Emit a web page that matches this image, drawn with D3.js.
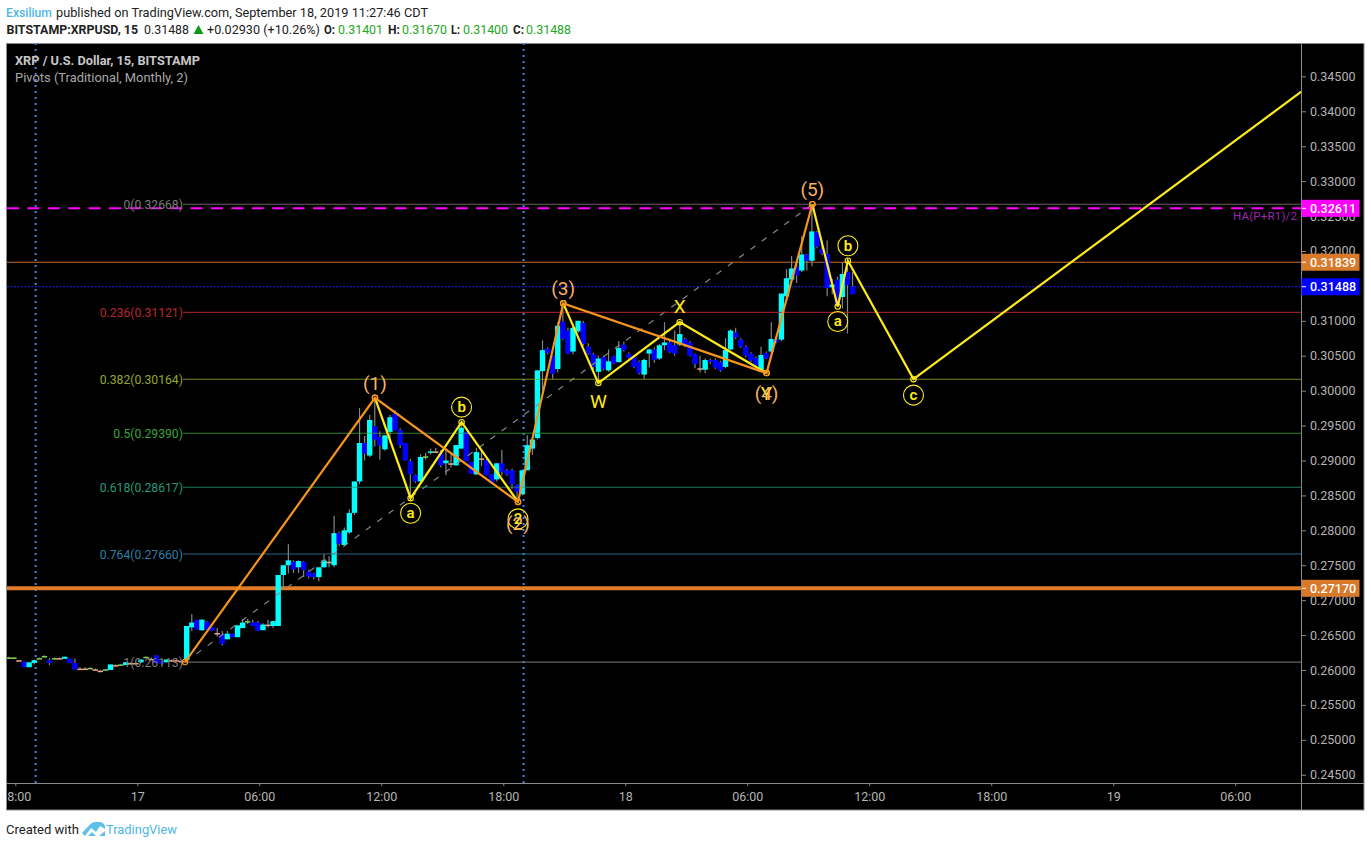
<!DOCTYPE html>
<html><head><meta charset="utf-8">
<script src="https://cdn.jsdelivr.net/npm/d3@7"></script>
<style>
html,body{margin:0;padding:0;background:#fff;width:1371px;height:847px;overflow:hidden}
svg{display:block;font-family:Roboto,sans-serif}
</style></head><body>
<script>
const firstBar=-25;
const opens=[.2617,.2617,.2614,.2612,.2604,.2610,.2616,.2619,.2614,.2616,
.2617,.2616,.2616,.2610,.2602,.2602,.2602,.2601,.2599,.2600,
.2600,.2607,.2607,.2607,.2610,.2610,.2611,.2618,.2616,.2621,
.2612,.2611,.2614,.2614,.2613,.2614,.2661,.2672,.2657,.2669,
.2661,.2653,.2651,.2644,.2652,.2647,.2660,.2669,.2668,.2668,
.2657,.2665,.2663,.2663,.2736,.2750,.2755,.2747,.2755,.2741,
.2738,.2733,.2747,.2755,.2750,.2796,.2779,.2797,.2825,.2870,
.2925,.2907,.2949,.2934,.2916,.2941,.2967,.2944,.2925,.2899,
.2879,.2870,.2905,.2911,.2913,.2910,.2896,.2896,.2893,.2917,
.2941,.2898,.2880,.2903,.2901,.2880,.2873,.2896,.2886,.2886,
.2865,.2852,.2886,.2917,.2932,.3028,.3060,.3050,.3031,.3099,
.3086,.3056,.3085,.3097,.3063,.3052,.3027,.3048,.3029,.3049,
.3041,.3066,.3053,.3047,.3041,.3023,.3053,.3059,.3046,.3065,
.3069,.3065,.3066,.3074,.3069,.3052,.3032,.3030,.3044,.3044,
.3041,.3034,.3059,.3083,.3073,.3063,.3053,.3047,.3027,.3054,
.3056,.3074,.3073,.3135,.3159,.3177,.3172,.3195,.3186,.3227,
.3203,.3196,.3148,.3159,.3134,.3170,.3149];
const closes=[.2618,.2618,.2613,.2604,.2611,.2614,.2617,.2620,.2610,.2617,
.2617,.2619,.2610,.2601,.2602,.2602,.2603,.2601,.2599,.2601,
.2608,.2607,.2608,.2611,.2610,.2610,.2615,.2619,.2616,.2610,
.2609,.2615,.2614,.2614,.2613,.2663,.2668,.2658,.2672,.2658,
.2656,.2653,.2637,.2652,.2647,.2664,.2668,.2670,.2663,.2656,
.2665,.2665,.2670,.2736,.2750,.2757,.2744,.2756,.2743,.2734,
.2733,.2747,.2757,.2755,.2796,.2781,.2800,.2825,.2870,.2925,
.2910,.2958,.2930,.2921,.2936,.2962,.2943,.2922,.2900,.2880,
.2870,.2905,.2906,.2913,.2912,.2893,.2900,.2896,.2922,.2947,
.2899,.2881,.2912,.2903,.2879,.2868,.2896,.2884,.2880,.2866,
.2855,.2886,.2922,.2930,.3029,.3058,.3054,.3024,.3093,.3074,
.3053,.3090,.3100,.3067,.3052,.3034,.3046,.3031,.3042,.3039,
.3061,.3058,.3047,.3034,.3025,.3044,.3059,.3044,.3065,.3069,
.3055,.3053,.3081,.3065,.3050,.3038,.3032,.3044,.3041,.3033,
.3029,.3058,.3086,.3076,.3063,.3050,.3043,.3036,.3051,.3046,
.3074,.3069,.3139,.3161,.3175,.3165,.3195,.3186,.3228,.3206,
.3196,.3147,.3152,.3124,.3167,.3151,.3138];
const highs=[.2619,.2618,.2614,.2612,.2611,.2615,.2618,.2621,.2617,.2618,
.2618,.2619,.2616,.2616,.2604,.2604,.2604,.2602,.2600,.2601,
.2608,.2608,.2608,.2611,.2611,.2611,.2615,.2619,.2618,.2621,
.2612,.2615,.2615,.2615,.2614,.2663,.2680,.2672,.2673,.2670,
.2661,.2660,.2656,.2656,.2652,.2664,.2673,.2673,.2672,.2670,
.2667,.2672,.2670,.2736,.2750,.2780,.2757,.2757,.2756,.2744,
.2739,.2747,.2766,.2763,.2821,.2798,.2804,.2830,.2870,.2975,
.2935,.2965,.2989,.2942,.2936,.2965,.2972,.2946,.2925,.2902,
.2880,.2909,.2911,.2917,.2918,.2915,.2915,.2910,.2922,.2955,
.2941,.2898,.2918,.2914,.2903,.2880,.2896,.2915,.2888,.2888,
.2866,.2886,.2936,.2930,.3029,.3072,.3062,.3050,.3098,.3120,
.3090,.3092,.3100,.3100,.3068,.3054,.3050,.3050,.3059,.3050,
.3071,.3070,.3055,.3050,.3043,.3046,.3060,.3062,.3067,.3098,
.3072,.3086,.3096,.3076,.3071,.3053,.3050,.3046,.3046,.3046,
.3043,.3075,.3088,.3090,.3075,.3065,.3055,.3049,.3063,.3056,
.3098,.3076,.3139,.3174,.3193,.3180,.3221,.3196,.3267,.3229,
.3215,.3215,.3160,.3163,.3184,.3177,.3170];
const lows=[.2616,.2617,.2613,.2604,.2604,.2608,.2616,.2619,.2607,.2616,
.2616,.2616,.2610,.2601,.2601,.2601,.2602,.2600,.2598,.2600,
.2600,.2606,.2607,.2607,.2609,.2609,.2610,.2618,.2615,.2610,
.2608,.2611,.2613,.2613,.2612,.2614,.2656,.2658,.2656,.2658,
.2656,.2648,.2635,.2644,.2647,.2647,.2660,.2666,.2663,.2656,
.2657,.2661,.2660,.2663,.2716,.2738,.2739,.2739,.2733,.2731,
.2730,.2727,.2747,.2747,.2747,.2778,.2777,.2795,.2822,.2866,
.2900,.2905,.2920,.2901,.2914,.2925,.2943,.2918,.2900,.2845,
.2868,.2870,.2901,.2909,.2911,.2890,.2879,.2890,.2893,.2917,
.2899,.2881,.2880,.2892,.2879,.2868,.2870,.2878,.2878,.2859,
.2845,.2850,.2886,.2908,.2930,.3000,.3052,.3017,.3026,.3072,
.3052,.3052,.3083,.3064,.3051,.3028,.3014,.3029,.3027,.3038,
.3040,.3056,.3046,.3032,.3023,.3017,.3033,.3040,.3044,.3058,
.3054,.3050,.3064,.3062,.3049,.3032,.3026,.3025,.3038,.3031,
.3027,.3032,.3058,.3074,.3061,.3048,.3041,.3033,.3027,.3045,
.3054,.3068,.3071,.3131,.3157,.3154,.3170,.3172,.3178,.3204,
.3194,.3135,.3138,.3120,.3118,.3082,.3138];

const priceTicks=[.245,.25,.255,.26,.265,.27,.275,.28,.285,.29,.295,.3,.305,.31,.315,.32,.325,.33,.335,.34,.345];
const timeTicks=[-24,0,24,48,72,96,120,144,168,192,216];
const timeLabels=["18:00","17","06:00","12:00","18:00","18","06:00","12:00","18:00","19","06:00"];
const sessionBars=[-20,76];

const fibRatios=["0","0.236","0.382","0.5","0.618","0.764","1"];
const fibPrices=[.32668,.31121,.30164,.2939,.28617,.2766,.26113];
const fibColors=["#7c7c7c","#b8272f","#93a82a","#3aa63a","#25997a","#2a7fa8","#7c7c7c"];
const fibStart=9.38;
const fibEnd=132.8;

const pivotPrices=[.32611,.31839,.2717];
const lastPrice=.31488;

const impulseBars=[9.38,46.76,74.9,83.8,123.8,132.8];
const impulsePrices=[.26113,.29897,.28407,.3125,.30251,.32669];
const abcOneBars=[46.76,53.77,63.8,74.9];
const abcOnePrices=[.29897,.2846,.29549,.28407];
const wxyBars=[83.8,90.7,106.7,123.8];
const wxyPrices=[.3125,.30108,.30981,.30251];
const abcTwoBars=[132.8,137.8,139.8,152.7,232.7];
const abcTwoPrices=[.32669,.31205,.3186,.30165,.34481];

const orangeLabels=["(1)","(2)","(3)","(4)","(5)"];
const wxyLabels=["W","X","Y"];

const W=1371,H=847,L=7,R=1301,T=43,B=783,FR=1364,FB=810;
const x=d3.scaleLinear().domain([0,100]).range([137.3,645.6]);
const y=d3.scaleLinear().domain([.26,.34]).range([670,111.3]);
const barShift=-0.28;

const svg=d3.select("body").append("svg").attr("width",W).attr("height",H);
svg.append("defs").append("clipPath").attr("id","plot").append("rect").attr("x",L).attr("y",T).attr("width",R-L).attr("height",B-T);
svg.append("defs").append("clipPath").attr("id","time").append("rect").attr("x",L).attr("y",B).attr("width",FR-L).attr("height",FB-B);

// frame
svg.append("rect").attr("x",6.5).attr("y",43.5).attr("width",FR-6.5).attr("height",FB-43.5).attr("fill","#000").attr("stroke","#8a8a8a");

// header: each run is placed at the reference's position and fitted to its width
function run(x0,w,yy,txt,size,col,weight){
  svg.append("text").attr("x",x0).attr("y",yy).attr("font-size",size).attr("fill",col).attr("font-weight",weight||400)
    .attr("textLength",w).attr("lengthAdjust","spacingAndGlyphs").text(txt);
}
const green="#22a822",ink="#222";
run(6,46,17,"Exsilium",13.5,"#4db6e8",500);
run(56,372,17,"published on TradingView.com, September 18, 2019 11:27:46 CDT",13.5,ink);
run(6.5,131.5,33.5,"BITSTAMP:XRPUSD, 15",13,ink,700);
run(144,45,33.5,"0.31488",13,ink);
run(207,113,33.5,"+0.02930 (+10.26%)",13,ink);
const ohlcLabels=["O:","H:","L:","C:"];
const ohlcValues=["0.31401","0.31670","0.31400","0.31488"];
const ohlcX=[[324,11,338],[388,12,402],[451,9,463],[513,11,526]];
ohlcLabels.forEach((a,i)=>{
  run(ohlcX[i][0],ohlcX[i][1],33.5,a,13,ink,700);
  run(ohlcX[i][2],45,33.5,ohlcValues[i],13,green);
});
svg.append("path").attr("d","M198.5,25 L203.5,34 L193.5,34 Z").attr("fill","#0a9a1a");

const plot=svg.append("g").attr("clip-path","url(#plot)");

// session breaks
plot.selectAll(".sb").data(sessionBars).join("line").attr("x1",d=>x(d)).attr("x2",d=>x(d))
  .attr("y1",T).attr("y2",B).attr("stroke","#3f86e0").attr("stroke-width",2).attr("stroke-dasharray","2 4");

// pivots
plot.append("line").attr("x1",L).attr("x2",R).attr("y1",y(pivotPrices[2])).attr("y2",y(pivotPrices[2])).attr("stroke","#e07b28").attr("stroke-width",4);
plot.append("line").attr("x1",L).attr("x2",R).attr("y1",y(pivotPrices[1])).attr("y2",y(pivotPrices[1])).attr("stroke","#c8702a").attr("stroke-width",1);
plot.append("line").attr("x1",L).attr("x2",R).attr("y1",y(pivotPrices[0])).attr("y2",y(pivotPrices[0])).attr("stroke","#ff00ff").attr("stroke-width",2).attr("stroke-dasharray","12 8.4");
plot.append("line").attr("x1",L).attr("x2",R).attr("y1",y(lastPrice)).attr("y2",y(lastPrice)).attr("stroke","#2222ff").attr("stroke-width",1.2).attr("stroke-dasharray","2 1.5");

// candles
const bars=opens.map((o,i)=>({k:firstBar+i,o,c:closes[i],h:highs[i],l:lows[i]}));
const cx=d=>x(d.k+barShift);
plot.append("g").selectAll("line").data(bars).join("line").attr("x1",cx).attr("x2",cx)
  .attr("y1",d=>y(d.h)).attr("y2",d=>y(d.l)).attr("stroke","#858585").attr("stroke-width",1.2);
const color=d=>{const t=d.c-d.o; if(Math.abs(t)<=.00011) return t>0?"#7fd05a":"#f4a882"; return t>0?"#00ffff":"#0000ff";};
plot.append("g").selectAll("rect").data(bars).join("rect")
  .attr("x",d=>cx(d)-2.7).attr("width",5.4)
  .attr("y",d=>Math.min(y(d.o),y(d.c)))
  .attr("height",d=>Math.max(1.5,Math.abs(y(d.o)-y(d.c))))
  .attr("fill",color);

// fib
plot.append("line").attr("x1",x(fibStart)).attr("y1",y(fibPrices[6])).attr("x2",x(fibEnd)).attr("y2",y(fibPrices[0]))
  .attr("stroke","#8a8a8a").attr("stroke-width",1.1).attr("stroke-dasharray","6 8");
fibPrices.forEach((p,i)=>{
  plot.append("line").attr("x1",x(fibStart)-2).attr("x2",R).attr("y1",y(p)).attr("y2",y(p)).attr("stroke",fibColors[i]).attr("stroke-opacity",.8).attr("stroke-width",1.1);
  plot.append("text").attr("x",x(fibStart)-2).attr("y",y(p)+5).attr("text-anchor","end").attr("font-size",12.2)
    .attr("fill",fibColors[i]).text(`${fibRatios[i]}(${p.toFixed(5)})`);
});

// pivot label
plot.append("text").attr("x",1233).attr("y",219.5).attr("font-size",11.5).attr("fill","#9c27b0")
  .attr("textLength",64).attr("lengthAdjust","spacing").text("HA(P+R1)/2");

// wave lines
const ln=d3.line().x(d=>x(d[0])).y(d=>y(d[1]));
const zip=(a,b)=>a.map((v,i)=>[v,b[i]]);
const YEL="#ffeb1a",ORG="#f7941d";
function wave(pts,col){
  plot.append("path").attr("d",ln(pts)).attr("fill","none").attr("stroke",col).attr("stroke-width",2.2);
  plot.append("g").selectAll("circle").data(pts).join("circle").attr("cx",d=>x(d[0])).attr("cy",d=>y(d[1])).attr("r",2.7)
    .attr("fill","none").attr("stroke",col).attr("stroke-width",1.1);
}
wave(zip(abcOneBars,abcOnePrices),YEL);
wave(zip(wxyBars,wxyPrices),YEL);
wave(zip(abcTwoBars,abcTwoPrices),YEL);
wave(zip(impulseBars,impulsePrices),ORG);

function circled(bar,price,dy,txt){
  const g=plot.append("g").attr("transform",`translate(${x(bar)},${y(price)+dy})`);
  g.append("circle").attr("r",10).attr("fill","none").attr("stroke",YEL).attr("stroke-width",1.1);
  g.append("text").attr("y",5).attr("text-anchor","middle").attr("font-size",15).attr("font-weight",600).attr("fill",YEL).text(txt);
}
function label(bar,price,dy,txt,col){
  plot.append("text").attr("x",x(bar)).attr("y",y(price)+dy+7).attr("text-anchor","middle").attr("font-size",19).attr("fill",col).text(txt);
}
circled(abcOneBars[1],abcOnePrices[1],15,"a");
circled(abcOneBars[2],abcOnePrices[2],-15,"b");
circled(abcOneBars[3],abcOnePrices[3],17,"2");
circled(abcTwoBars[1],abcTwoPrices[1],15,"a");
circled(abcTwoBars[2],abcTwoPrices[2],-15,"b");
circled(abcTwoBars[3],abcTwoPrices[3],16,"c");
wxyLabels.forEach((t,i)=>label(wxyBars[i+1],wxyPrices[i+1],i==1?-16:(i==0?18:20),t,YEL));
const orangeDy=[-15,21,-15,20,-15];
orangeLabels.forEach((t,i)=>label(impulseBars[i+1],impulsePrices[i+1],orangeDy[i],t,"#f7b267"));

// axes
const yAxis=d3.axisRight(y).tickValues(priceTicks).tickFormat(d3.format(".5f")).tickSize(5).tickPadding(4);
const yg=svg.append("g").attr("transform",`translate(${R},0)`).call(yAxis);
yg.select(".domain").remove();
yg.append("line").attr("x1",.5).attr("x2",.5).attr("y1",T).attr("y2",FB).attr("stroke","#8a8a8a");
yg.selectAll(".tick line").attr("stroke","#8a8a8a");
yg.selectAll(".tick text").attr("fill","#b4b4b4").attr("font-size",12.5).attr("font-family","Roboto,sans-serif");

const xAxis=d3.axisBottom(x).tickValues(timeTicks).tickFormat((d,i)=>timeLabels[i]).tickSize(3).tickPadding(6);
const xg=svg.append("g").attr("clip-path","url(#time)").append("g").attr("transform",`translate(0,${B})`).call(xAxis);
xg.select(".domain").remove();
xg.selectAll(".tick line").attr("stroke","#8a8a8a");
xg.selectAll(".tick text").attr("fill","#b4b4b4").attr("font-size",12.5).attr("font-family","Roboto,sans-serif");
svg.append("line").attr("x1",L).attr("x2",FR).attr("y1",B+.5).attr("y2",B+.5).attr("stroke","#8a8a8a");

// price tags
const tags=[[pivotPrices[0],"#ff00ff"],[pivotPrices[1],"#d97a2b"],[lastPrice,"#0000ff"],[pivotPrices[2],"#d97a2b"]];
tags.forEach(([p,c])=>{
  svg.append("rect").attr("x",R+.5).attr("y",y(p)-8.5).attr("width",58).attr("height",17).attr("fill",c);
  svg.append("line").attr("x1",R+1).attr("x2",R+5).attr("y1",y(p)).attr("y2",y(p)).attr("stroke","#fff");
  svg.append("text").attr("x",R+9).attr("y",y(p)+4.5).attr("font-size",12.5).attr("font-weight",500).attr("fill","#fff").text(p.toFixed(5));
});

// legend
run(15,185,65,"XRP / U.S. Dollar, 15, BITSTAMP",13,"#c8c8c8",700);
run(15,173,82,"Pivots (Traditional, Monthly, 2)",13,"#a8a8a8");

// footer
run(6,73,834,"Created with",13.5,ink);
svg.append("path").attr("d","M82,833 L90,824.5 Q92,822 95,822 L100,822 Q103,822 105,826 L105,829 L100,826 L96,832 L91,828 L85,836 Z").attr("fill","#5cc0ea");
svg.append("path").attr("d","M88,836 L92,832 L96,836 Z M99,836 L105,831 L105,836 Z").attr("fill","#5cc0ea");
run(106,71,834,"TradingView",13.5,"#4db6e8");
</script>
</body></html>
